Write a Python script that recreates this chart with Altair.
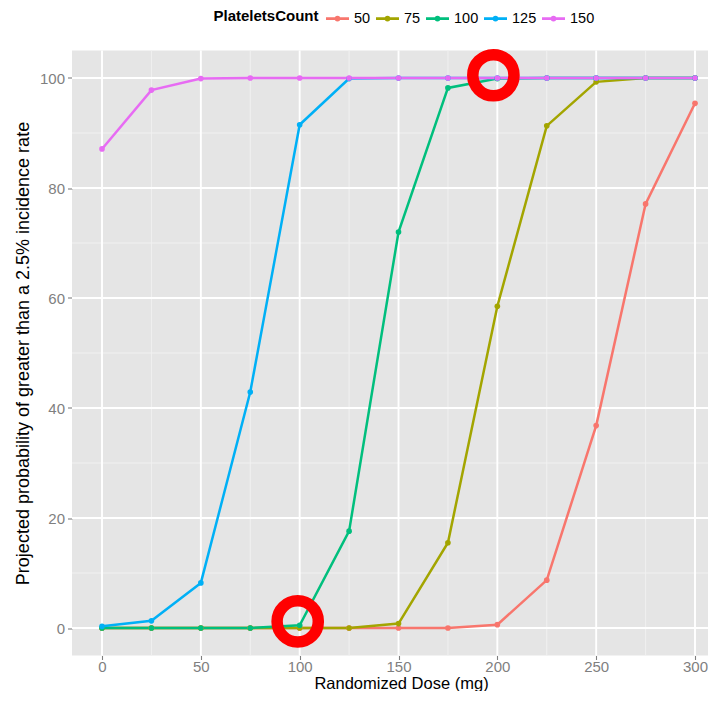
import altair as alt
import pandas as pd

# ---- data ----
doses = [0, 25, 50, 75, 100, 125, 150, 175, 200, 225, 250, 275, 300]
series_names = ["50", "75", "100", "125", "150"]
p50 = [0, 0, 0, 0, 0, 0, 0, 0, 0.6, 8.7, 36.8, 77.1, 95.4]
p75 = [0, 0, 0, 0, 0, 0, 0.8, 15.5, 58.5, 91.3, 99.3, 100, 100]
p100 = [0, 0, 0, 0, 0.5, 17.6, 72.0, 98.2, 99.9, 100, 100, 100, 100]
p125 = [0.3, 1.3, 8.2, 42.9, 91.5, 99.9, 100, 100, 100, 100, 100, 100, 100]
p150 = [87.1, 97.8, 99.9, 100, 100, 100, 100, 100, 100, 100, 100, 100, 100]
series_values = [p50, p75, p100, p125, p150]
colors = ["#F8766D", "#A3A500", "#00BF7D", "#00B0F6", "#E76BF3"]

x_major = [0, 50, 100, 150, 200, 250, 300]
x_minor = [25, 75, 125, 175, 225, 275]
y_major = [0, 20, 40, 60, 80, 100]
y_minor = [10, 30, 50, 70, 90]

hl_dose = [99, 198]
hl_prob = [1.2, 100.5]

# ---- tables ----
rows = []
for name, vals in zip(series_names, series_values):
    for d, v in zip(doses, vals):
        rows.append({"dose": d, "prob": v, "PlateletsCount": name})
df = pd.DataFrame(rows)
hl = pd.DataFrame({"dose": hl_dose, "prob": hl_prob})
gx_major = pd.DataFrame({"v": x_major})
gx_minor = pd.DataFrame({"v": x_minor})
gy_major = pd.DataFrame({"v": y_major})
gy_minor = pd.DataFrame({"v": y_minor})

FONT = "Liberation Sans"
XT = "Randomized Dose (mg)"
YT = "Projected probability of greater than a 2.5% incidence rate"

xs = alt.Scale(domain=[-15.18, 306.57], nice=False, zero=False)
ys = alt.Scale(domain=[-5, 105], nice=False, zero=False)

xaxis = alt.Axis(values=x_major, grid=False, domain=False, tickColor="#7F7F7F",
                 tickSize=4, tickWidth=1.1, labelColor="#7F7F7F", labelFontSize=15,
                 labelPadding=0, titleFontSize=16.5, titleColor="black",
                 titleFontWeight="normal", titleX=329, titleY=35.5,
                 titleBaseline="bottom", labelFlush=False)
yaxis = alt.Axis(values=y_major, grid=False, domain=False, tickColor="#7F7F7F",
                 tickSize=4.5, tickWidth=1.1, labelColor="#7F7F7F", labelFontSize=15,
                 labelPadding=3, titleFontSize=18, titleColor="black",
                 titleFontWeight="normal", titlePadding=7, labelFlush=False)


def X(field):
    return alt.X(field, type="quantitative", scale=xs, axis=xaxis, title=XT)


def Y(field):
    return alt.Y(field, type="quantitative", scale=ys, axis=yaxis, title=YT)


minor_v = alt.Chart(gx_minor).mark_rule(color="#F2F2F2", strokeWidth=0.9).encode(x=X("v"))
minor_h = alt.Chart(gy_minor).mark_rule(color="#F2F2F2", strokeWidth=0.9).encode(y=Y("v"))
major_v = alt.Chart(gx_major).mark_rule(color="white", strokeWidth=1.9).encode(x=X("v"))
major_h = alt.Chart(gy_major).mark_rule(color="white", strokeWidth=1.9).encode(y=Y("v"))

legend_path = ("M-1,0L1,0M-0.13,0A0.13,0.13 0 1,1 0.13,0"
               "A0.13,0.13 0 1,1 -0.13,0Z")
legend = alt.Legend(title="PlateletsCount", orient="none", legendX=141.5, legendY=-45,
                    direction="horizontal", titleOrient="left", titleFontSize=15,
                    titleFontWeight="bold", titleColor="black", titleFont=FONT,
                    labelFontSize=14.5, labelColor="black", labelFont=FONT,
                    symbolType=legend_path, symbolSize=529, symbolStrokeWidth=2.6,
                    labelOffset=3.5, columnPadding=0, titlePadding=5,
                    titleBaseline="middle")
cscale = alt.Scale(domain=series_names, range=colors)

lines = alt.Chart(df).mark_line(strokeWidth=2.5).encode(
    x=X("dose"), y=Y("prob"),
    color=alt.Color("PlateletsCount:N", scale=cscale, legend=legend, sort=series_names),
    detail="PlateletsCount:N",
)
points = alt.Chart(df).mark_point(filled=True, size=32, opacity=1).encode(
    x=X("dose"), y=Y("prob"),
    color=alt.Color("PlateletsCount:N", scale=cscale, legend=legend, sort=series_names),
)
circles = alt.Chart(hl).mark_point(shape="circle", filled=False, size=1698,
                                   strokeWidth=11.5, color="#FF0000", opacity=1).encode(
    x=X("dose"), y=Y("prob"))

chart = alt.layer(minor_v, minor_h, major_v, major_h, lines, points, circles).properties(
    width=636, height=605,
    autosize=alt.AutoSizeParams(type="none"),
    padding={"left": 64, "top": 42.5, "right": 2, "bottom": 35},
).configure(font=FONT, background="white").configure_view(fill="#E5E5E5", stroke=None)

chart.save("out.html", embed_options={"renderer": "svg", "actions": False})
